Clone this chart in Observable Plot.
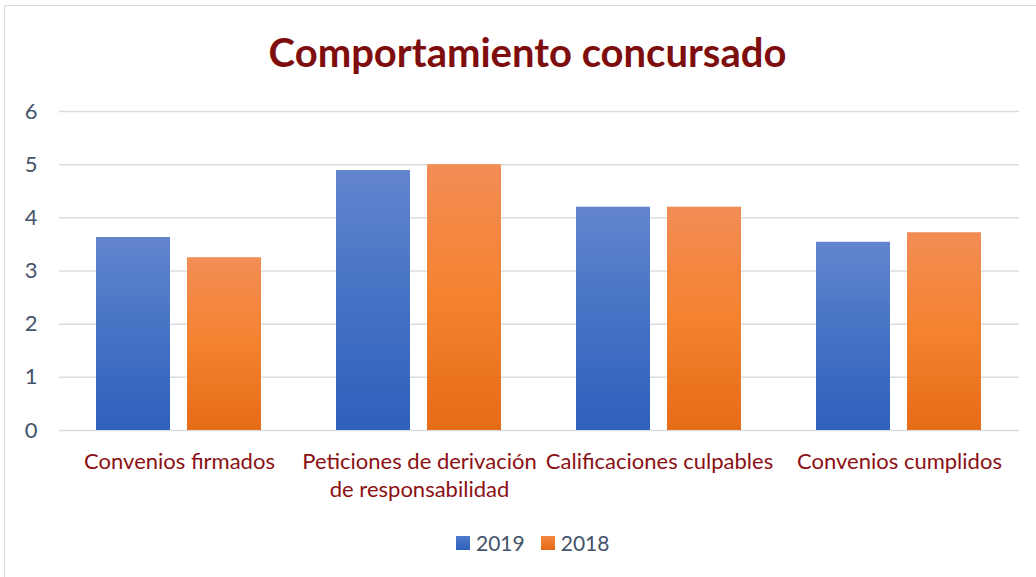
<!DOCTYPE html>
<html>
<head>
<meta charset="utf-8">
<script src="https://cdn.jsdelivr.net/npm/d3@7"></script>
<script src="https://cdn.jsdelivr.net/npm/@observablehq/plot@0.6"></script>
<style>
  body { margin: 0; background: #fff; font-family: Lato, "Open Sans", sans-serif; }
  #wrap { position: relative; width: 1036px; height: 577px; overflow: hidden; background: #fff; }
  #frame { position: absolute; left: 4px; top: 5px; width: 1100px; height: 700px; border: 1px solid #D6DADF; box-sizing: border-box; }
  #chart { position: absolute; left: 0; top: 0; }
  #title { position: absolute; left: 0; top: 28px; width: 1055px; text-align: center; font-weight: bold; font-size: 40px; line-height: 48px; color: #7E0D0D; font-family: Lato, sans-serif; }
  #legend { position: absolute; top: 530px; left: 456px; display: flex; align-items: center; font-size: 21px; color: #44546A; }
  #legend .item { display: flex; align-items: center; margin-right: 16px; }
  #legend .sw { width: 14px; height: 14px; margin-right: 6px; }
</style>
</head>
<body>
<div id="wrap">
  <div id="frame"></div>
  <div id="chart"></div>
  <div id="title"></div>
  <div id="legend"></div>
</div>
<script>
const titleText = "Comportamiento concursado";
const categories = ["Convenios firmados", "Peticiones de derivación de responsabilidad", "Calificaciones culpables", "Convenios cumplidos"];
const categoryLabels = ["Convenios firmados", "Peticiones de derivación\nde responsabilidad", "Calificaciones culpables", "Convenios cumplidos"];
const years = ["2019", "2018"];
const values2019 = [3.63, 4.89, 4.2, 3.54];
const values2018 = [3.25, 5.0, 4.2, 3.72];
const yTicks = [0, 1, 2, 3, 4, 5, 6];

const data = [];
categories.forEach((c, i) => {
  data.push({category: c, year: "2019", value: values2019[i]});
  data.push({category: c, year: "2018", value: values2018[i]});
});
const labelOf = new Map(categories.map((c, i) => [c, categoryLabels[i]]));

const chart = Plot.plot({
  width: 1036,
  height: 577,
  marginTop: 111,
  marginBottom: 147,
  marginLeft: 59,
  marginRight: 17,
  style: {fontFamily: "Lato, sans-serif", background: "transparent"},
  fx: {domain: categories, padding: 0, axis: null, label: null},
  x: {domain: years, paddingInner: 0.185, paddingOuter: 0.397, axis: null, label: null},
  y: {domain: [0, 6], ticks: yTicks, axis: null, label: null},
  color: {domain: years, range: ["url(#gBlue)", "url(#gOrange)"]},
  marks: [
    Plot.gridY(yTicks, {stroke: "#D9DDE2", strokeOpacity: 1, strokeWidth: 1.5}),
    Plot.barY(data, {fx: "category", x: "year", y: "value", fill: "year"}),
    Plot.axisY(yTicks, {label: null, tickSize: 0, tickPadding: 22, fontSize: 22, color: "#44546A", tickFormat: d => String(d)}),
    Plot.axisFx({label: null, anchor: "bottom", tickSize: 0, tickPadding: 19, fontSize: 22, lineHeight: 1.27, color: "#8B1014", tickFormat: d => labelOf.get(d)})
  ]
});
chart.insertAdjacentHTML("afterbegin", `<defs>
  <linearGradient id="gBlue" x1="0" y1="0" x2="0" y2="1">
    <stop offset="0" stop-color="#6385CE"/>
    <stop offset="0.5" stop-color="#4472C4"/>
    <stop offset="1" stop-color="#2E60BC"/>
  </linearGradient>
  <linearGradient id="gOrange" x1="0" y1="0" x2="0" y2="1">
    <stop offset="0" stop-color="#F28D55"/>
    <stop offset="0.5" stop-color="#F5822F"/>
    <stop offset="1" stop-color="#E56B17"/>
  </linearGradient>
</defs>`);
document.getElementById("chart").appendChild(chart);
document.getElementById("title").textContent = titleText;

const legendColors = ["linear-gradient(#4F7BCB,#2E60BC)", "linear-gradient(#F4873F,#E56B17)"];
const legend = document.getElementById("legend");
years.forEach((y, i) => {
  const item = document.createElement("div");
  item.className = "item";
  const sw = document.createElement("div");
  sw.className = "sw";
  sw.style.background = legendColors[i];
  const t = document.createElement("span");
  t.textContent = y;
  item.appendChild(sw);
  item.appendChild(t);
  legend.appendChild(item);
});
</script>
</body>
</html>
